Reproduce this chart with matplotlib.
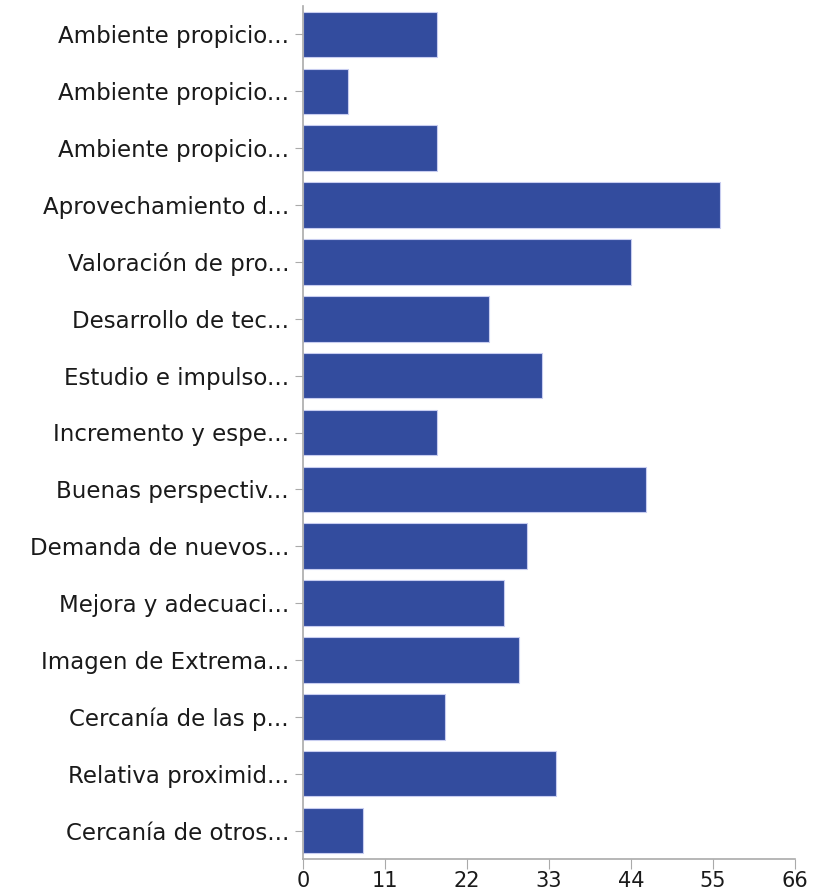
import matplotlib
matplotlib.use("Agg")
import matplotlib.pyplot as plt

categories = [
    "Ambiente propicio...",
    "Ambiente propicio...",
    "Ambiente propicio...",
    "Aprovechamiento d...",
    "Valoración de pro...",
    "Desarrollo de tec...",
    "Estudio e impulso...",
    "Incremento y espe...",
    "Buenas perspectiv...",
    "Demanda de nuevos...",
    "Mejora y adecuaci...",
    "Imagen de Extrema...",
    "Cercanía de las p...",
    "Relativa proximid...",
    "Cercanía de otros...",
]
values = [18, 6, 18, 56, 44, 25, 32, 18, 46, 30, 27, 29, 19, 34, 8]
xticks = [0, 11, 22, 33, 44, 55, 66]

plt.rcParams['font.family'] = ['DejaVu Sans']

fig = plt.figure(figsize=(8.13, 8.91), dpi=100)
ax = fig.add_axes([303/813, 1 - 859/891, (795-303)/813, (859-6)/891])

pos = list(range(len(categories)))
ax.barh(pos, values, height=0.8, color="#334c9e", edgecolor="#c8cdf0", linewidth=0.8)
ax.set_ylim(len(categories) - 0.5, -0.5)
ax.set_xlim(0, 66)
ax.set_yticks(pos)
ax.set_yticklabels(categories, fontsize=16.5, color="#1a1a1a")
ax.set_xticks(xticks)
ax.set_xticklabels([str(t) for t in xticks], fontsize=15, color="#1a1a1a")

for s in ["top", "right"]:
    ax.spines[s].set_visible(False)
for s in ["left", "bottom"]:
    ax.spines[s].set_color("#aaaaaa")
    ax.spines[s].set_linewidth(1.2)
ax.tick_params(axis="y", length=6, color="#aaaaaa", pad=4)
ax.tick_params(axis="x", length=7, color="#aaaaaa", pad=1.5)

fig.savefig("out.png", dpi=100)
